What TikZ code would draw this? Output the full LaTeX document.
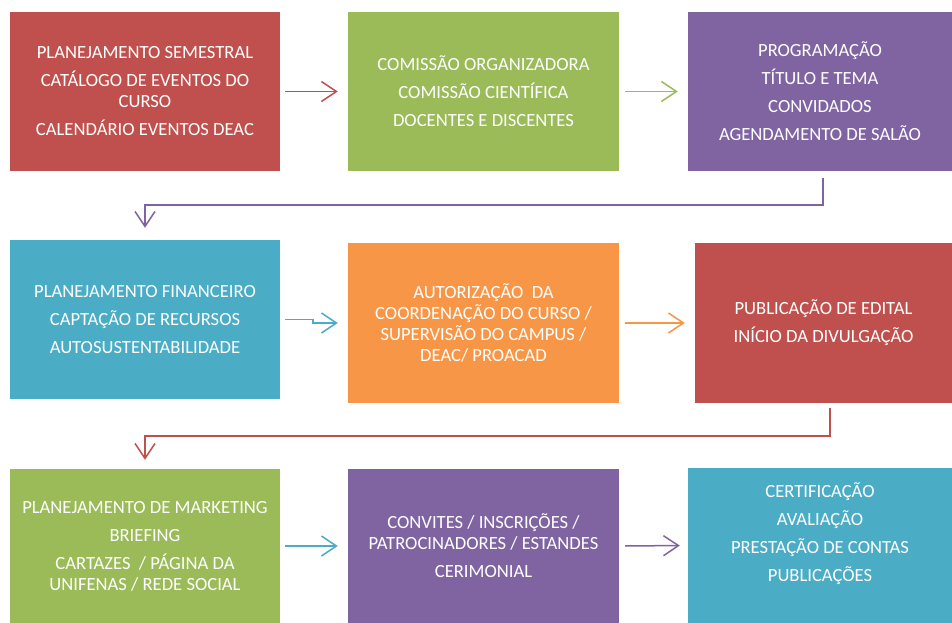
\documentclass[tikz,border=0pt]{standalone}
\usepackage{fontspec}
\setmainfont{Carlito}
\usepackage{tikz}
\usetikzlibrary{positioning, calc}
\usetikzlibrary{arrows.meta}
\definecolor{boxred}{HTML}{C0504D}
\definecolor{boxgreen}{HTML}{9BBB59}
\definecolor{boxpurple}{HTML}{8064A2}
\definecolor{boxteal}{HTML}{4BACC6}
\definecolor{boxorange}{HTML}{F79646}
\tikzstyle{stepbox}=[rectangle,draw=none,text=white,align=center,
font=\fontsize{18.6}{21}\selectfont,inner sep=0pt]
\tikzstyle{boxtext}=[text=white,align=center,font=\fontsize{18.6}{21}\selectfont]
\tikzstyle{flowarrow} = [line width=1.5pt,-{Straight Barb[length=15pt,width=20pt]}]

\begin{document}
\begin{tikzpicture}[x=1pt,y=-1pt]
    \useasboundingbox (0,0) rectangle (952,623);
    % first row
    \node[stepbox, fill=boxred, minimum width=270pt, minimum height=159pt] (plan) at (145,91.5)
        {PLANEJAMENTO SEMESTRAL\\[7pt] CAT\'ALOGO DE EVENTOS DO\\CURSO\\[7pt] CALEND\'ARIO EVENTOS DEAC};
    \node[stepbox, fill=boxgreen, minimum width=271pt, minimum height=159pt] (comissao) at (483.5,91.5)
        {COMISS\~AO ORGANIZADORA\\[7pt] COMISS\~AO CIENT\'IFICA\\[7pt] DOCENTES E DISCENTES};
    \node[stepbox, fill=boxpurple, minimum width=264pt, minimum height=159pt] (programa) at (820,91.5)
        {PROGRAMA\c{C}\~AO\\[7pt] T\'ITULO E TEMA\\[7pt] CONVIDADOS\\[7pt] AGENDAMENTO DE SAL\~AO};
    % second row
    \node[stepbox, fill=boxteal, minimum width=270pt, minimum height=159pt] (financeiro) at (145,319.5)
        {PLANEJAMENTO FINANCEIRO\\[7pt] CAPTA\c{C}\~AO DE RECURSOS\\[7pt] AUTOSUSTENTABILIDADE};
    \node[stepbox, fill=boxorange, minimum width=271pt, minimum height=160pt] (autoriza) at (483.5,323)
        {AUTORIZA\c{C}\~AO\ \ DA\\COORDENA\c{C}\~AO DO CURSO /\\SUPERVIS\~AO DO CAMPUS /\\DEAC/ PROACAD};
    \node[stepbox, fill=boxred, minimum width=257pt, minimum height=160pt] (edital) at (823.5,323)
        {PUBLICA\c{C}\~AO DE EDITAL\\[7pt] IN\'ICIO DA DIVULGA\c{C}\~AO};
    % third row
    \node[stepbox, fill=boxgreen, minimum width=270pt, minimum height=154pt] (marketing) at (145,546)
        {PLANEJAMENTO DE MARKETING\\[7pt] BRIEFING\\[7pt] CARTAZES\ \ / P\'AGINA DA\\UNIFENAS / REDE SOCIAL};
    \node[stepbox, fill=boxpurple, minimum width=271pt, minimum height=154pt] (convites) at (483.5,546)
        {CONVITES / INSCRI\c{C}\~OES /\\PATROCINADORES / ESTANDES\\[7pt] CERIMONIAL};
    \node[stepbox, fill=boxteal, minimum width=264pt, minimum height=155pt,
        label={[boxtext, yshift=11.5pt]center:CERTIFICA\c{C}\~AO\\[7pt] AVALIA\c{C}\~AO\\[7pt] PRESTA\c{C}\~AO DE CONTAS\\[7pt] PUBLICA\c{C}\~OES}]
        (certifica) at (820,545.5) {};

    % connectors
    \draw[flowarrow, boxred, shorten <=5pt, shorten >=10pt] (plan.east) -- (comissao.west);
    \draw[flowarrow, boxgreen, shorten <=6pt, shorten >=10pt] (comissao.east) -- (programa.west);
    \draw[flowarrow, boxpurple] ($(programa.south)+(3,7)$) -- ++(0,27) -| ($(financeiro.north)+(0,-12)$);
    \draw[flowarrow, boxteal] ($(financeiro.east)+(5,0)$) -- ++(28,0) |- ($(autoriza.west)+(-10,0)$);
    \draw[flowarrow, boxorange, shorten <=6pt, shorten >=10pt] (autoriza.east) -- (edital.west);
    \draw[flowarrow, boxred] ($(edital.south)+(6.5,5)$) -- ++(0,28) -| ($(marketing.north)+(0,-9)$);
    \draw[flowarrow, boxteal, shorten <=5pt, shorten >=10pt] (marketing.east) -- (convites.west);
    \draw[flowarrow, boxpurple, shorten <=6pt, shorten >=8pt] (convites.east) -- (certifica.west);
\end{tikzpicture}
\end{document}
